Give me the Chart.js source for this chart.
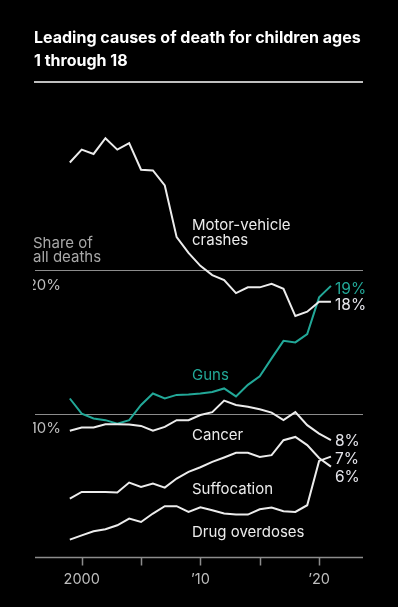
<!DOCTYPE html>
<html>
<head>
<meta charset="utf-8">
<script src="https://cdn.jsdelivr.net/npm/chart.js@4"></script>
<style>
  html, body { margin: 0; padding: 0; background: #000; }
  canvas { display: block; }
</style>
</head>
<body>
<canvas id="c" width="398" height="607"></canvas>
<script>
const years = [1999,2000,2001,2002,2003,2004,2005,2006,2007,2008,2009,2010,2011,2012,2013,2014,2015,2016,2017,2018,2019,2020,2021];
const motorVehicle = [27.5,28.4,28.1,29.2,28.4,28.85,27.0,26.95,25.9,22.3,21.2,20.3,19.65,19.3,18.4,18.8,18.8,19.05,18.7,16.8,17.1,17.8,17.8];
const guns = [11.05,10.0,9.66,9.54,9.3,9.54,10.6,11.4,11.05,11.3,11.33,11.4,11.5,11.75,11.2,12.0,12.6,13.85,15.07,14.96,15.54,18.1,18.9];
const cancer = [8.8,9.03,9.03,9.26,9.26,9.24,9.14,8.8,9.07,9.54,9.54,9.9,10.1,10.9,10.6,10.47,10.3,10.07,9.54,10.1,9.19,8.6,8.14];
const suffocation = [4.07,4.54,4.54,4.54,4.49,5.19,4.89,5.12,4.84,5.47,5.93,6.26,6.63,6.94,7.26,7.26,6.98,7.1,8.14,8.37,7.8,6.9,6.3];
const drugOverdoses = [1.21,1.51,1.79,1.93,2.21,2.68,2.44,3.03,3.54,3.54,3.14,3.47,3.26,3.03,2.96,2.96,3.33,3.45,3.19,3.14,3.61,6.7,7.0];
const seriesNames = ['Motor-vehicle crashes','Guns','Cancer','Suffocation','Drug overdoses'];
const endLabels = ['18%','19%','8%','6%','7%'];
const yGridValues = [10, 20];
const yGridLabels = ['10%', '20%'];
const xTickValues = [2000, 2005, 2010, 2015, 2020];
const xTickLabels = ['2000', '', '\u201910', '', '\u201920'];

const WHITE = '#ececec';
const TEAL = '#22a898';
const FONT = 'Inter, "Open Sans", sans-serif';

function pts(arr) { return arr.map((v, i) => ({ x: years[i], y: v })); }

const decor = {
  id: 'decor',
  beforeDatasetsDraw(chart) {
    const ctx = chart.ctx;
    const xs = chart.scales.x, ys = chart.scales.y;
    const ca = chart.chartArea;
    ctx.save();
    ctx.strokeStyle = '#8c8c8c';
    ctx.lineWidth = 1;
    yGridValues.forEach(v => {
      const y = Math.round(ys.getPixelForValue(v)) + 0.5;
      ctx.beginPath(); ctx.moveTo(ca.left, y); ctx.lineTo(ca.right, y); ctx.stroke();
    });
    const by = Math.round(ys.getPixelForValue(0)) + 0.5;
    ctx.lineWidth = 1.5;
    ctx.beginPath(); ctx.moveTo(ca.left, by); ctx.lineTo(ca.right, by); ctx.stroke();
    xTickValues.forEach(v => {
      const x = Math.round(xs.getPixelForValue(v)) + 0.5;
      ctx.beginPath(); ctx.moveTo(x, by); ctx.lineTo(x, by + 8); ctx.stroke();
    });
    ctx.fillStyle = '#bdbdbd';
    ctx.font = '14.5px ' + FONT;
    ctx.textAlign = 'center';
    ctx.textBaseline = 'middle';
    xTickValues.forEach((v, i) => {
      if (xTickLabels[i]) ctx.fillText(xTickLabels[i], xs.getPixelForValue(v), by + 22);
    });
    ctx.save();
    ctx.beginPath(); ctx.rect(ca.left - 2, 0, 400, 607); ctx.clip();
    ctx.textAlign = 'right';
    ctx.font = '15px ' + FONT;
    yGridValues.forEach((v, i) => {
      ctx.fillText(yGridLabels[i], 61, ys.getPixelForValue(v) + 15);
    });
    ctx.restore();
    ctx.textAlign = 'left';
    ctx.font = '15px ' + FONT;
    ctx.fillStyle = '#a8a8a8';
    ctx.fillText('Share of', 33, 243);
    ctx.fillText('all deaths', 33, 257.5);
    ctx.restore();
  },
  afterDraw(chart) {
    const ctx = chart.ctx;
    ctx.save();
    ctx.fillStyle = '#ffffff';
    ctx.font = 'bold 16px ' + FONT;
    ctx.textAlign = 'left';
    ctx.textBaseline = 'middle';
    ctx.fillText('Leading causes of death for children ages', 34, 38);
    ctx.fillText('1 through 18', 34, 61);
    ctx.strokeStyle = '#ffffff';
    ctx.lineWidth = 1.5;
    ctx.beginPath(); ctx.moveTo(34, 82); ctx.lineTo(363, 82); ctx.stroke();
    ctx.font = '15px ' + FONT;
    ctx.fillStyle = WHITE;
    ctx.fillText('Motor-vehicle', 192, 225);
    ctx.fillText('crashes', 192, 240);
    ctx.fillStyle = TEAL;
    ctx.fillText('Guns', 192, 375);
    ctx.fillStyle = WHITE;
    ctx.fillText('Cancer', 192, 435);
    ctx.fillText('Suffocation', 192, 489);
    ctx.fillText('Drug overdoses', 192, 532);
    ctx.font = '15.5px ' + FONT;
    ctx.fillStyle = TEAL;
    ctx.fillText(endLabels[1], 335, 289);
    ctx.fillStyle = '#e4e4ea';
    ctx.fillText(endLabels[0], 335, 305);
    ctx.fillText(endLabels[2], 335, 441);
    ctx.fillText(endLabels[4], 335, 459);
    ctx.fillText(endLabels[3], 335, 477);
    ctx.restore();
  }
};

new Chart(document.getElementById('c'), {
  type: 'line',
  data: {
    datasets: [
      { label: seriesNames[0], data: pts(motorVehicle), borderColor: WHITE },
      { label: seriesNames[2], data: pts(cancer), borderColor: WHITE },
      { label: seriesNames[3], data: pts(suffocation), borderColor: WHITE },
      { label: seriesNames[4], data: pts(drugOverdoses), borderColor: WHITE },
      { label: seriesNames[1], data: pts(guns), borderColor: TEAL }
    ]
  },
  options: {
    responsive: false,
    animation: false,
    events: [],
    layout: { padding: { left: 35, right: 35, top: 98, bottom: 50 } },
    elements: {
      line: { borderWidth: 2, tension: 0, borderCapStyle: 'butt', borderJoinStyle: 'miter' },
      point: { radius: 0 }
    },
    scales: {
      x: { type: 'linear', min: 1996.066, max: 2023.70, display: false },
      y: { type: 'linear', min: 0, max: 32, display: false }
    },
    plugins: { legend: { display: false }, tooltip: { enabled: false }, title: { display: false } }
  },
  plugins: [decor]
});
</script>
</body>
</html>
